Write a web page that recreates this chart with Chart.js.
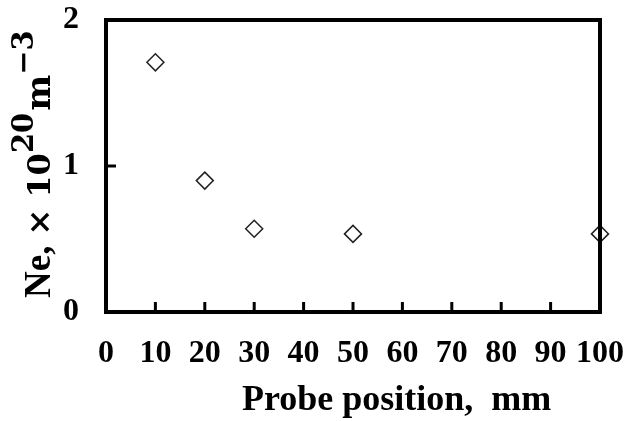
<!DOCTYPE html>
<html>
<head>
<meta charset="utf-8">
<script src="https://cdn.jsdelivr.net/npm/chart.js@4/dist/chart.umd.min.js"></script>
<style>
  html, body { margin: 0; padding: 0; background: #fff; }
</style>
</head>
<body>
<canvas id="chart" width="638" height="421"></canvas>
<script>
// probe position (mm) and electron density (x 10^20 m^-3)
const positions = [10, 20, 30, 50, 100];
const density = [1.71, 0.9, 0.57, 0.535, 0.535];

const xMin = 0, xMax = 100, xStep = 10;
const yMin = 0, yMax = 2, yStep = 1;

const xTitle = "Probe position,  mm";
const yTitleMain = "Ne,";
const yTitleMult = "\u00d7 10";
const yTitleExp = "20";
const yTitleUnit = "m";
const yTitleUnitExp = "\u22123";

const serif = '"Liberation Serif", "Times New Roman", serif';
const mathSerif = '"DejaVu Serif", serif';

// box around the plot, inner tick marks and the axis titles
const framePlugin = {
  id: "frame",
  afterDatasetsDraw(chart) {
    const { ctx, chartArea: a, scales } = chart;
    ctx.save();
    ctx.strokeStyle = "#000";
    ctx.lineWidth = 3;
    scales.x.ticks.forEach((t) => {
      if (t.value === xMin || t.value === xMax) return;
      const px = scales.x.getPixelForValue(t.value);
      ctx.beginPath();
      ctx.moveTo(px, a.bottom);
      ctx.lineTo(px, a.bottom - 10);
      ctx.stroke();
    });
    scales.y.ticks.forEach((t) => {
      if (t.value === yMin || t.value === yMax) return;
      const py = scales.y.getPixelForValue(t.value);
      ctx.beginPath();
      ctx.moveTo(a.left, py);
      ctx.lineTo(a.left + 10, py);
      ctx.stroke();
    });
    ctx.lineWidth = 4;
    ctx.strokeRect(a.left, a.top, a.right - a.left, a.bottom - a.top);

    // x title
    ctx.fillStyle = "#000";
    ctx.textBaseline = "alphabetic";
    ctx.textAlign = "left";
    ctx.font = "bold 36px " + serif;
    ctx.fillText(xTitle, 242, 410);

    // y title, rotated, with superscripts
    ctx.translate(50, 298);
    ctx.rotate(-Math.PI / 2);
    let x = 0;
    const piece = (text, font, rise, gap) => {
      ctx.font = font;
      ctx.fillText(text, x, -rise);
      x += ctx.measureText(text).width + (gap || 0);
    };
    piece(yTitleMain, "bold 37px " + serif, 0, 10);
    piece(yTitleMult, "bold 32px " + mathSerif, 0, 0);
    piece(yTitleExp, "bold 29px " + mathSerif, 17, 2);
    piece(yTitleUnit, "bold 34px " + mathSerif, 0, 0);
    piece(yTitleUnitExp, "bold 29px " + mathSerif, 17, 0);
    ctx.restore();
  }
};

const tickFont = { family: serif, size: 32, weight: "bold" };

new Chart(document.getElementById("chart"), {
  type: "scatter",
  data: {
    datasets: [
      {
        data: positions.map((p, i) => ({ x: p, y: density[i] })),
        pointStyle: "rectRot",
        pointRadius: 8.5,
        pointHoverRadius: 8.5,
        pointBorderWidth: 1.5,
        borderColor: "#222",
        backgroundColor: "rgba(255,255,255,0)",
        clip: false
      }
    ]
  },
  options: {
    responsive: false,
    animation: false,
    devicePixelRatio: 1,
    layout: { padding: { top: 20, right: 38, left: 0, bottom: 0 } },
    plugins: { legend: { display: false }, tooltip: { enabled: false } },
    scales: {
      x: {
        type: "linear",
        min: xMin,
        max: xMax,
        grid: { display: false, drawTicks: false },
        border: { display: false },
        ticks: {
          stepSize: xStep,
          padding: 23,
          color: "#000",
          font: tickFont,
          maxRotation: 0,
          minRotation: 0,
          autoSkip: false
        },
        afterFit(scale) {
          scale.height = 109;
          scale.paddingLeft = 0;
          scale.paddingRight = 0;
        }
      },
      y: {
        type: "linear",
        min: yMin,
        max: yMax,
        grid: { display: false, drawTicks: false },
        border: { display: false },
        ticks: {
          stepSize: yStep,
          padding: 27,
          color: "#000",
          font: tickFont
        },
        afterFit(scale) {
          scale.width = 106;
          scale.paddingTop = 0;
          scale.paddingBottom = 0;
        }
      }
    }
  },
  plugins: [framePlugin]
});
</script>
</body>
</html>
